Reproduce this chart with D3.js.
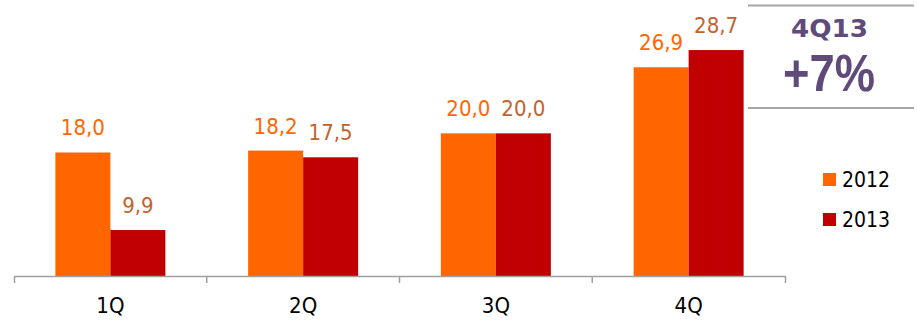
<!DOCTYPE html>
<html>
<head>
<meta charset="utf-8">
<script src="https://cdn.jsdelivr.net/npm/d3@7"></script>
<style>
  html, body { margin: 0; padding: 0; background: #fff; }
  svg { display: block; }
  text { font-family: "DejaVu Sans Condensed", "DejaVu Sans", sans-serif; }
</style>
</head>
<body>
<svg id="chart" width="918" height="321"></svg>
<script>
const categories = ["1Q", "2Q", "3Q", "4Q"];
const seriesNames = ["2012", "2013"];
const values2012 = [18.0, 18.2, 20.0, 26.9];
const values2013 = [9.9, 17.5, 20.0, 28.7];
const valueLabels2012 = ["18,0", "18,2", "20,0", "26,9"];
const valueLabels2013 = ["9,9", "17,5", "20,0", "28,7"];
const boxTitle = "4Q13";
const boxValue = "+7%";

const colors = { "2012": "#FF6600", "2013": "#C00000" };
const labelColors = { "2012": "#FF6600", "2013": "#C4622D" };

const svg = d3.select("#chart");
const baseY = 276;

const x = d3.scaleBand().domain(categories).range([14, 785]).paddingInner(0).paddingOuter(0);
const bw = x.bandwidth();
const barW = 55;
const xInner = d3.scaleBand().domain(seriesNames).range([bw / 2 - barW, bw / 2 + barW]);
const y = d3.scaleLinear().domain([5.1, 30]).range([baseY, baseY - 9.574 * 24.9]);

const data = [];
categories.forEach((c, i) => {
  data.push({ cat: c, series: "2012", value: values2012[i], label: valueLabels2012[i] });
  data.push({ cat: c, series: "2013", value: values2013[i], label: valueLabels2013[i] });
});

// bars
svg.append("g").selectAll("rect").data(data).join("rect")
  .attr("x", d => x(d.cat) + xInner(d.series))
  .attr("y", d => y(d.value))
  .attr("width", xInner.bandwidth())
  .attr("height", d => baseY - y(d.value))
  .attr("fill", d => colors[d.series]);

// value labels
svg.append("g").selectAll("text").data(data).join("text")
  .attr("x", d => x(d.cat) + xInner(d.series) + xInner.bandwidth() / 2)
  .attr("y", d => y(d.value) - 17)
  .attr("text-anchor", "middle")
  .attr("font-size", 22)
  .attr("fill", d => labelColors[d.series])
  .text(d => d.label);

// axis
const axis = d3.axisBottom(x).tickSizeInner(0).tickSizeOuter(7).tickPadding(0);
const gAxis = svg.append("g").attr("transform", `translate(0,${baseY})`).call(axis);
gAxis.select(".domain").attr("stroke", "#A0A0A0").attr("stroke-width", 1.5);
gAxis.selectAll(".tick line").remove();
gAxis.selectAll(".tick text")
  .attr("y", 37).attr("dy", null)
  .attr("font-size", 22)
  .attr("font-family", '"DejaVu Sans Condensed", "DejaVu Sans", sans-serif')
  .attr("fill", "#000");
// separators between categories
gAxis.selectAll(".sep").data(categories.slice(1)).join("line")
  .attr("class", "sep")
  .attr("x1", d => x(d)).attr("x2", d => x(d))
  .attr("y1", 0).attr("y2", 7)
  .attr("stroke", "#A0A0A0").attr("stroke-width", 1.5);

// legend
const legend = svg.append("g");
seriesNames.forEach((s, i) => {
  const ly = 173 + i * 40;
  legend.append("rect").attr("x", 823).attr("y", ly).attr("width", 13).attr("height", 13).attr("fill", colors[s]);
  legend.append("text").attr("x", 842).attr("y", ly + 14).attr("font-size", 21).attr("fill", "#000").text(s);
});

// top-right box
const box = svg.append("g");
[5.5, 108].forEach(ly => {
  box.append("line").attr("x1", 748).attr("x2", 914).attr("y1", ly).attr("y2", ly)
    .attr("stroke", "#A6A6A6").attr("stroke-width", 2);
});
box.append("text").attr("x", 829.5).attr("y", 37).attr("text-anchor", "middle")
  .style("font-family", '"DejaVu Sans", sans-serif')
  .attr("font-size", 25).attr("font-weight", "bold").attr("fill", "#604A7B")
  .attr("textLength", 77).attr("lengthAdjust", "spacingAndGlyphs")
  .text(boxTitle);
box.append("text").attr("x", 829).attr("y", 91).attr("text-anchor", "middle")
  .style("font-family", '"Liberation Sans", sans-serif')
  .attr("font-size", 52).attr("font-weight", "bold").attr("fill", "#604A7B")
  .attr("textLength", 92).attr("lengthAdjust", "spacingAndGlyphs")
  .text(boxValue);
</script>
</body>
</html>
